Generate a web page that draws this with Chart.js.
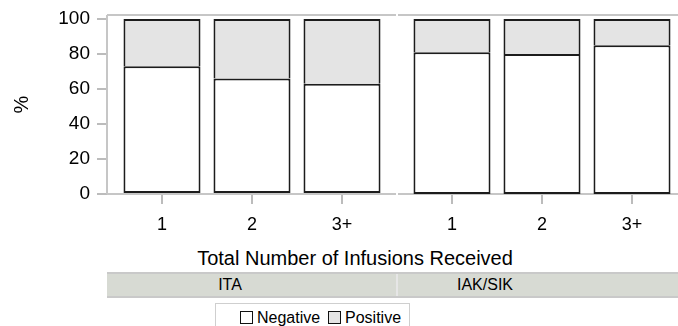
<!DOCTYPE html>
<html>
<head>
<meta charset="utf-8">
<script src="https://cdn.jsdelivr.net/npm/chart.js@4"></script>
<style>
  html, body { margin: 0; padding: 0; background: #fff; overflow: hidden; }
  #wrap { position: relative; width: 678px; height: 326px; overflow: hidden; font-family: "Liberation Sans", Arial, sans-serif; color: #000; }
  #wrap canvas { position: absolute; top: 0; }
  #xtitle { position: absolute; left: 155px; width: 400px; top: 246px; text-align: center; font-size: 20px; line-height: 24px; }
  #strip { position: absolute; left: 107px; top: 272px; width: 571px; height: 22px; background: #d7dad3; border-top: 2px solid #c9c9c9; border-bottom: 2px solid #c9c9c9; }
  #strip span { position: absolute; top: 0; line-height: 22px; font-size: 16px; transform: translateX(-50%); }
  #strip .div { position: absolute; left: 289px; top: 0; width: 2px; height: 22px; background: #e6e6e6; }
  #legend { position: absolute; left: 215px; top: 303px; width: 193px; height: 30px; border: 1.5px solid #cfcfcf; font-size: 16px; }
  #legend .item { position: absolute; top: 5px; line-height: 18px; white-space: nowrap; }
  #legend i { display: inline-block; width: 11px; height: 11px; border: 1px solid #111; vertical-align: -1px; margin-right: 4px; }
</style>
</head>
<body>
<div id="wrap">
  <canvas id="ita" width="397" height="230" style="left:0"></canvas>
  <canvas id="iak" width="290" height="230" style="left:397px"></canvas>
  <div id="xtitle">Total Number of Infusions Received</div>
  <div id="strip"><span style="left:123px">ITA</span><div class="div"></div><span style="left:378px">IAK/SIK</span></div>
  <div id="legend"></div>
</div>
<script>
// infusion groups shown in each panel
const infusions = ['1', '2', '3+'];
const panels = ['ITA', 'IAK/SIK'];
const seriesNames = ['Negative', 'Positive'];
const seriesColors = ['#ffffff', '#e4e4e4'];
const yTicks = [0, 20, 40, 60, 80, 100];

// percent negative / positive per infusion group
const itaNegative = [73, 66, 63];
const itaPositive = [27, 34, 37];
const iakNegative = [81, 80, 85];
const iakPositive = [19, 20, 15];

const FONT = '"Liberation Sans", Arial, sans-serif';
const frameColor = '#c6c6c6';

// light gray frame around each panel (top and bottom, left edge on the first panel)
const panelFrame = {
    id: 'panelFrame',
    beforeDatasetsDraw(chart, args, opts) {
        const a = chart.chartArea;
        const c = chart.ctx;
        c.save();
        c.strokeStyle = frameColor;
        c.lineWidth = 2;
        c.beginPath();
        const x0 = opts.leftEdge ? a.left : a.left + 1;
        const x1 = opts.leftEdge ? a.right - 1 : a.right;
        c.moveTo(x0, a.top); c.lineTo(x1, a.top);
        c.moveTo(x0, a.bottom); c.lineTo(x1, a.bottom);
        if (opts.leftEdge) {
            c.moveTo(a.left, a.top); c.lineTo(a.left, a.bottom);
        }
        c.stroke();
        c.restore();
    }
};

function makePanel(id, negative, positive, showY) {
    const toPoints = arr => arr.map((v, i) => ({ x: i, y: v }));
    return new Chart(document.getElementById(id), {
        type: 'bar',
        data: {
            datasets: [
                {
                    label: seriesNames[0],
                    data: toPoints(negative),
                    backgroundColor: seriesColors[0],
                    borderColor: '#1c1c1c',
                    borderWidth: 2,
                    borderSkipped: false
                },
                {
                    label: seriesNames[1],
                    data: toPoints(positive),
                    backgroundColor: seriesColors[1],
                    borderColor: '#1c1c1c',
                    borderWidth: 2,
                    borderSkipped: 'bottom'
                }
            ]
        },
        options: {
            responsive: false,
            animation: false,
            events: [],
            layout: { padding: { top: 15, left: 0, right: 0, bottom: 0 } },
            datasets: { bar: { categoryPercentage: 1, barPercentage: 0.856 } },
            plugins: {
                legend: { display: false },
                tooltip: { enabled: false },
                panelFrame: { leftEdge: showY }
            },
            scales: {
                x: {
                    type: 'linear',
                    stacked: true,
                    offset: false,
                    min: -0.611,
                    max: 2.611,
                    afterBuildTicks: s => { s.ticks = infusions.map((_, i) => ({ value: i })); },
                    afterFit: s => { s.height = 36; s.paddingLeft = 0; s.paddingRight = 0; },
                    border: { display: false },
                    grid: { offset: false, drawOnChartArea: false, drawTicks: true, tickLength: 10, tickColor: '#bcbcbc', lineWidth: 2 },
                    ticks: {
                        color: '#000',
                        font: { family: FONT, size: 18 },
                        padding: 10,
                        maxRotation: 0,
                        callback: v => infusions[v]
                    }
                },
                y: {
                    display: showY,
                    stacked: true,
                    min: 0,
                    max: 102.3,
                    afterBuildTicks: s => { s.ticks = yTicks.map(v => ({ value: v })); },
                    afterFit: s => { s.width = showY ? 107 : 0; s.paddingTop = 0; s.paddingBottom = 0; },
                    border: { display: false },
                    grid: { drawOnChartArea: false, drawTicks: true, tickLength: 10, tickColor: '#bcbcbc', lineWidth: 2 },
                    ticks: { color: '#000', font: { family: FONT, size: 19 }, padding: 7 },
                    title: {
                        display: true,
                        text: '%',
                        color: '#000',
                        font: { family: FONT, size: 20 },
                        padding: { top: 10, bottom: 0 }
                    }
                }
            }
        },
        plugins: [panelFrame]
    });
}

makePanel('ita', itaNegative, itaPositive, true);
makePanel('iak', iakNegative, iakPositive, false);

// legend built from the series names and fills
const legend = document.getElementById('legend');
const legendLeft = [24, 112];
seriesNames.forEach((name, i) => {
    const item = document.createElement('span');
    item.className = 'item';
    item.style.left = legendLeft[i] + 'px';
    const sw = document.createElement('i');
    sw.style.background = seriesColors[i];
    item.appendChild(sw);
    item.appendChild(document.createTextNode(name));
    legend.appendChild(item);
});
</script>
</body>
</html>
